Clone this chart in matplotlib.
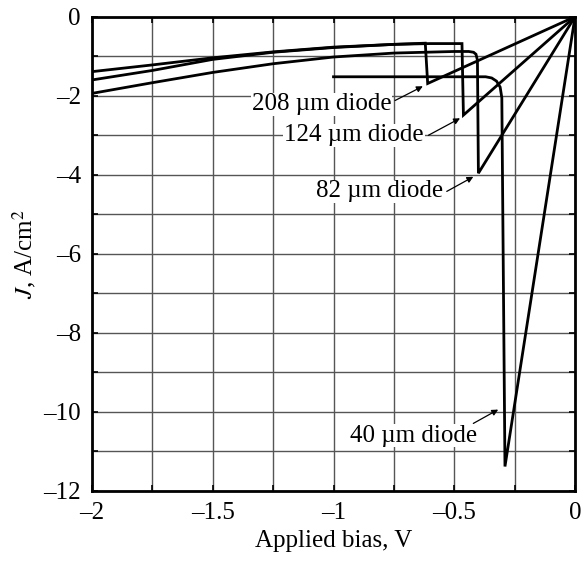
#!/usr/bin/env python
"""J-V sweeps of four diode sizes."""

import matplotlib
matplotlib.use('Agg')
import matplotlib.pyplot as plt
from matplotlib.ticker import MultipleLocator, FuncFormatter

# (V, J), each curve drawn as one path
v_208 = [-2.0, -1.75, -1.5, -1.25, -1.0, -0.75, -0.62, -0.61, 0.0]
j_208 = [-1.60, -1.36, -1.08, -0.90, -0.78, -0.70, -0.67, -1.69, 0.0]

v_124 = [-2.0, -1.75, -1.5, -1.25, -1.0, -0.75, -0.6, -0.468, -0.462, 0.0]
j_124 = [-1.39, -1.22, -1.04, -0.89, -0.77, -0.70, -0.68, -0.68, -2.49, 0.0]

v_82 = [-2.0, -1.75, -1.5, -1.25, -1.0, -0.75, -0.5, -0.44, -0.42, -0.41,
        -0.404, -0.40, 0.0]
j_82 = [-1.94, -1.67, -1.41, -1.19, -1.02, -0.92, -0.88, -0.88, -0.90,
        -0.95, -1.10, -3.96, 0.0]

v_40 = [-1.0, -0.5, -0.37, -0.345, -0.325, -0.31, -0.303, -0.29, 0.0]
j_40 = [-1.52, -1.52, -1.52, -1.55, -1.63, -1.78, -2.05, -11.38, 0.0]

# label text, text position, arrow tail and tip
labels = ['208 \u00b5m diode', '124 \u00b5m diode', '82 \u00b5m diode', '40 \u00b5m diode']
text_xy = [(-1.05, -2.22), (-0.915, -3.0), (-0.81, -4.42), (-0.67, -10.6)]
tail_xy = [(-0.745, -2.12), (-0.607, -3.0), (-0.531, -4.42), (-0.421, -10.29)]
tip_xy = [(-0.63, -1.76), (-0.476, -2.57), (-0.421, -4.05), (-0.318, -9.94)]


def dash_fmt(x, pos):
    return ('%g' % x).replace('-', '\u2013')


plt.rcParams['font.family'] = ['Liberation Serif', 'DejaVu Serif']
plt.rcParams['mathtext.fontset'] = 'stix'

fig = plt.figure(figsize=(5.87, 5.61), dpi=100)
ax = fig.add_axes([92/587, 1 - 491/561, 483/587, (491 - 16.7)/561])

for v, j in [(v_208, j_208), (v_124, j_124), (v_82, j_82), (v_40, j_40)]:
    ax.plot(v, j, color='black', lw=2.0, solid_joinstyle='miter', zorder=3)

for lab, txy, tail, tip in zip(labels, text_xy, tail_xy, tip_xy):
    ax.text(txy[0], txy[1], lab, ha='center', va='center', fontsize=18,
            bbox=dict(facecolor='white', edgecolor='none', pad=0.5), zorder=4)
    ax.annotate('', xy=tip, xytext=tail,
                arrowprops=dict(arrowstyle='-|>', color='black', lw=0.9,
                                mutation_scale=9, shrinkA=0, shrinkB=0),
                zorder=4)

ax.set_xlim(-2, 0)
ax.set_ylim(-12, 0)
ax.xaxis.set_major_locator(MultipleLocator(0.5))
ax.xaxis.set_minor_locator(MultipleLocator(0.25))
ax.yaxis.set_major_locator(MultipleLocator(2))
ax.yaxis.set_minor_locator(MultipleLocator(1))
ax.xaxis.set_major_formatter(FuncFormatter(dash_fmt))
ax.yaxis.set_major_formatter(FuncFormatter(dash_fmt))
ax.grid(True, which='both', color='#555555', lw=1.0)
ax.tick_params(which='both', direction='in', length=4, width=1.2,
               top=True, right=True, labelsize=18, pad=8)
for s in ax.spines.values():
    s.set_linewidth(2.0)

ax.set_xlabel('Applied bias, V', fontsize=18, labelpad=4)
ax.set_ylabel('$J$, A/cm$^2$', fontsize=18, labelpad=4)

fig.savefig('out.png', dpi=100)
